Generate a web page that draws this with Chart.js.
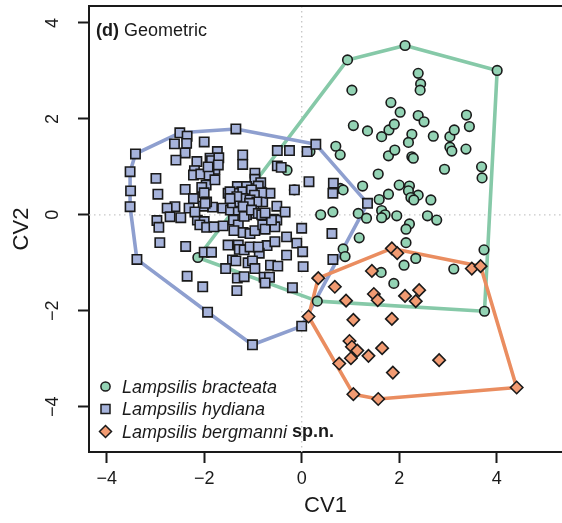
<!DOCTYPE html>
<html><head><meta charset="utf-8">
<script src="https://cdn.jsdelivr.net/npm/chart.js@4.4.1/dist/chart.umd.min.js"></script>
<style>html,body{margin:0;padding:0;background:#fff;}canvas{display:block}</style>
</head><body>
<canvas id="c" width="562" height="523"></canvas>
<script>
const xTicks = [-4, -2, 0, 2, 4];
const yTicks = [-4, -2, 0, 2, 4];
const seriesNames = ["Lampsilis bracteata", "Lampsilis hydiana", "Lampsilis bergmanni"];

const bracteataX = [0.94,2.12,4.01,1.03,2.39,2.44,2.43,1.83,2.02,1.06,1.35,1.64,1.79,1.90,2.39,2.51,2.26,2.19,2.70,3.04,3.13,3.38,3.44,3.04,3.08,3.37,0.70,0.79,1.78,1.91,2.26,2.29,0.17,3.69,3.70,2.93,1.57,1.25,0.79,0.85,1.78,1.59,2.00,2.21,2.19,2.39,2.24,2.30,2.65,1.64,1.71,1.64,1.16,1.33,1.95,2.58,2.77,2.21,2.14,0.64,1.18,2.14,0.85,0.89,3.74,2.34,2.10,3.12,1.63,1.89,0.32,3.75,-0.30,-0.15,0.39,-2.13];
const bracteataY = [3.23,3.53,3.01,2.60,2.95,2.73,2.60,2.34,2.14,1.86,1.75,1.63,1.77,1.89,2.07,1.94,1.68,1.51,1.64,1.63,1.77,2.08,1.84,1.41,1.33,1.37,1.43,1.25,1.23,1.35,1.21,1.18,1.32,1.00,0.77,0.95,0.85,0.60,0.55,0.52,0.43,0.32,0.62,0.60,0.50,0.41,0.36,0.31,0.31,0.09,0.00,-0.06,0.03,-0.07,-0.02,-0.02,-0.11,-0.19,-0.30,0.06,-0.48,-0.58,-0.71,-0.87,-0.73,-0.91,-1.05,-1.13,-1.20,-1.43,-1.80,-2.01,0.93,0.52,0.00,-0.89];

const hydianaX = [-3.41,-2.50,-2.35,-2.61,-2.36,-2.00,-2.39,-2.58,-1.73,-1.88,-1.85,-1.70,-2.15,-1.78,-2.20,-2.22,-2.07,-1.90,-3.52,-2.99,-2.95,-3.51,-3.52,-2.39,-1.96,-2.05,-2.00,-2.22,-2.31,-2.60,-2.76,-2.70,-2.48,-2.97,-2.93,-2.14,-2.00,-1.83,-1.62,-1.51,
 -3.38,-2.91,-2.38,-2.35,-2.03,-1.93,-1.01,0.00,-2.00,-1.85,-2.09,-1.95,-1.80,-2.02,-1.46,-1.30,-1.14,-0.98,-0.80,-1.42,-1.27,-1.13,-0.94,-1.40,-1.30,-1.39,-1.20,-1.06,-0.96,-0.80,-0.75,-0.58,-0.51,-0.55,-0.51,-0.34,0.00,-1.51,-1.30,-1.28,-1.18,-0.71,-0.87,-1.42,-1.35,-1.10,-1.01,-1.56,-0.96,-1.32,-1.18,-0.77,-0.66,-0.75,-0.64,-0.49,-0.31,-0.10,0.02,0.03,-0.19,-1.33,
 -1.21,-1.21,-0.50,-0.25,0.11,0.29,-0.50,-0.42,-0.96,-0.96,-0.84,-0.65,0.15,-0.15,-1.32,-1.13,-1.23,-1.40,-1.47,-0.89,-0.82,-1.03,-0.97,-1.20,-1.06,-1.18,-1.95,-1.78,-1.92,-1.71,
 -1.33,-1.47,-0.92,-1.07,-1.20,-1.03,-2.19,-1.98,-1.61,-0.62,-0.89,-0.82,-0.75,-1.06,-0.89,-0.55,-0.31,-1.35,1.35,0.65,0.64,0.62,0.64];
const hydianaY = [1.27,1.71,1.64,1.48,1.49,1.52,1.29,1.14,1.32,1.18,1.13,1.19,1.11,0.95,0.92,0.83,0.85,0.83,0.90,0.76,0.43,0.50,0.17,0.53,0.62,0.57,0.46,0.34,0.14,0.17,0.14,-0.04,-0.06,-0.12,-0.26,-0.11,-0.14,0.16,0.14,0.45,
 -0.93,-0.58,-0.66,-1.28,-1.50,-2.03,-2.71,-2.32,-0.78,-0.78,-0.21,-0.26,-0.25,0.18,0.10,0.10,0.16,0.20,0.27,0.25,0.27,0.00,0.03,-0.11,-0.21,-0.33,-0.37,-0.39,-0.33,-0.21,-0.30,-0.09,-0.11,-0.25,0.18,0.06,-0.28,-0.63,-0.63,-0.72,-0.73,-0.64,-0.80,-0.94,-0.96,-1.00,-0.96,-1.12,-1.12,-1.32,-1.29,-1.30,-1.30,-1.42,-1.05,-1.07,-0.84,-0.59,-0.77,-1.08,-1.52,-1.58,
 1.25,1.05,1.34,1.34,1.32,1.47,1.02,0.99,0.87,0.74,0.67,0.45,0.69,0.52,0.59,0.59,0.48,0.45,0.48,0.60,0.46,0.52,0.41,0.34,0.31,-0.03,0.27,0.73,1.00,1.04,
 0.38,0.34,0.27,0.24,0.17,0.10,0.06,0.24,-0.23,-0.11,0.03,0.00,0.04,-0.67,-0.67,-0.56,-0.46,1.79,0.24,0.66,0.45,-0.39,-0.93];

const bergmanniX = [1.85,1.96,3.49,3.67,0.34,0.14,1.44,0.68,1.48,1.56,0.91,2.12,2.41,2.34,1.06,1.85,0.98,1.03,1.14,1.01,1.37,1.65,0.77,2.82,1.87,1.06,1.57,4.41];
const bergmanniY = [-0.70,-0.80,-1.12,-1.07,-1.32,-2.12,-1.17,-1.50,-1.65,-1.78,-1.79,-1.69,-1.57,-1.80,-2.19,-2.17,-2.63,-2.75,-2.83,-2.99,-2.94,-2.78,-3.10,-3.03,-3.29,-3.74,-3.84,-3.60];

const colGreen = {fill:'#93d3b4', line:'#86c9a8'};
const colBlue  = {fill:'#a6b3db', line:'#8e9fcf'};
const colOrange= {fill:'#f29b72', line:'#ea8d60'};
const ink = '#1a1a1a';

function pts(xs, ys){ return xs.map((x,i)=>({x:x, y:ys[i]})); }
function hull(p){
  const s = p.slice().sort((a,b)=>a.x-b.x || a.y-b.y);
  const cr=(o,a,b)=>(a.x-o.x)*(b.y-o.y)-(a.y-o.y)*(b.x-o.x);
  const lo=[],up=[];
  for(const q of s){ while(lo.length>=2 && cr(lo[lo.length-2],lo[lo.length-1],q)<=0) lo.pop(); lo.push(q); }
  for(let i=s.length-1;i>=0;i--){ const q=s[i]; while(up.length>=2 && cr(up[up.length-2],up[up.length-1],q)<=0) up.pop(); up.push(q); }
  up.pop(); lo.pop();
  const h = lo.concat(up); h.push(h[0]); return h;
}
const pB = pts(bracteataX, bracteataY), pH = pts(hydianaX, hydianaY), pG = pts(bergmanniX, bergmanniY);

function hullDS(p, c, ord){ return {type:'line', data:hull(p), borderColor:c.line, borderWidth:3.6, pointRadius:0, fill:false, tension:0, order:ord, borderJoinStyle:'round'}; }
function ptDS(p, c, style, r, ord){ return {type:'scatter', data:p, pointStyle:style, pointRadius:r, pointHoverRadius:r, backgroundColor:c.fill, borderColor:ink, borderWidth:1.6, order:ord}; }

const framePlugin = {
  id:'frame',
  beforeDatasetsDraw(chart){
    const {ctx, chartArea:a, scales:{x,y}} = chart;
    ctx.save();
    ctx.strokeStyle='#c8c8c8'; ctx.lineWidth=1.4; ctx.setLineDash([1.5,3.5]);
    const x0=x.getPixelForValue(0), y0=y.getPixelForValue(0);
    ctx.beginPath(); ctx.moveTo(x0,a.top); ctx.lineTo(x0,a.bottom); ctx.stroke();
    ctx.beginPath(); ctx.moveTo(a.left,y0); ctx.lineTo(a.right,y0); ctx.stroke();
    ctx.restore();
  },
  afterDraw(chart){
    const {ctx, chartArea:a} = chart;
    ctx.save();
    ctx.strokeStyle=ink; ctx.lineWidth=2; ctx.setLineDash([]);
    ctx.beginPath(); ctx.moveTo(a.left-1,a.top); ctx.lineTo(a.right+2,a.top); ctx.stroke();
    ctx.fillStyle=ink; ctx.textBaseline='alphabetic'; ctx.textAlign='left';
    ctx.font='bold 18px "Liberation Sans", Arial, sans-serif';
    ctx.fillText('(d)', 96, 36);
    const w = ctx.measureText('(d)').width;
    ctx.font='18px "Liberation Sans", Arial, sans-serif';
    ctx.fillText('Geometric', 96 + w + 5, 36);
    const rows=[386.5,409,431.5], mx=105.5, tx=122;
    const cols=[colGreen,colBlue,colOrange];
    rows.forEach((ry,i)=>{
      ctx.fillStyle=cols[i].fill; ctx.strokeStyle=ink; ctx.lineWidth=1.5;
      ctx.beginPath();
      if(i===0){ ctx.arc(mx,ry,4.6,0,Math.PI*2); }
      else if(i===1){ ctx.rect(mx-4.5,ry-4.5,9,9); }
      else { ctx.moveTo(mx,ry-6); ctx.lineTo(mx+6,ry); ctx.lineTo(mx,ry+6); ctx.lineTo(mx-6,ry); ctx.closePath(); }
      ctx.fill(); ctx.stroke();
      ctx.fillStyle=ink; ctx.textBaseline='middle';
      ctx.font='italic 18px "Liberation Sans", Arial, sans-serif';
      ctx.fillText(seriesNames[i], tx, ry+1);
      if(i===2){
        const ww = ctx.measureText(seriesNames[i]+' ').width;
        ctx.font='bold 18px "Liberation Sans", Arial, sans-serif';
        ctx.fillText('sp.n.', tx+ww, ry+1);
      }
    });
    ctx.restore();
  }
};

function noPad(s){ s.paddingTop=0; s.paddingBottom=0; s.paddingLeft=0; s.paddingRight=0; }
const font18 = {family:'"Liberation Sans", Arial, sans-serif', size:18};
new Chart(document.getElementById('c'), {
  data:{ datasets:[
    ptDS(pG, colOrange, 'rectRot', 6.2, 1),
    ptDS(pH, colBlue, 'rect', 6.6, 2),
    ptDS(pB, colGreen, 'circle', 4.8, 3),
    hullDS(pG, colOrange, 4),
    hullDS(pH, colBlue, 5),
    hullDS(pB, colGreen, 6)
  ]},
  options:{
    responsive:false, devicePixelRatio:1, animation:false,
    layout:{autoPadding:false, padding:{top:6,left:0,right:0,bottom:0}},
    plugins:{legend:{display:false}, tooltip:{enabled:false}},
    scales:{
      x:{type:'linear', position:'bottom', min:-4.363, max:5.34,
         afterBuildTicks(s){ s.ticks = xTicks.map(v=>({value:v})); },
         afterFit(s){ s.height = 71; noPad(s); },
         ticks:{color:ink, font:font18, padding:5, maxRotation:0, minRotation:0,
                callback:(v)=> (v<0?'\u2212':'')+Math.abs(v)},
         grid:{display:true, drawOnChartArea:false, drawTicks:true, tickLength:11, tickColor:ink, tickWidth:2},
         border:{display:true, color:ink, width:2},
         title:{display:true, text:'CV1', color:ink, font:{family:font18.family, size:22}, padding:{top:0,bottom:4}}
      },
      y:{type:'linear', position:'left', min:-4.945, max:4.354,
         afterBuildTicks(s){ s.ticks = yTicks.map(v=>({value:v})); },
         afterFit(s){ s.width = 89; noPad(s); },
         ticks:{color:ink, font:font18, padding:15, minRotation:90, maxRotation:90, crossAlign:'center',
                callback:(v)=> (v<0?'\u2212':'')+Math.abs(v)},
         grid:{display:true, drawOnChartArea:false, drawTicks:true, tickLength:11, tickColor:ink, tickWidth:2},
         border:{display:true, color:ink, width:2},
         title:{display:true, text:'CV2', color:ink, font:{family:font18.family, size:22}, padding:{top:9,bottom:0}}
      }
    }
  },
  plugins:[framePlugin]
});
</script>
</body></html>
